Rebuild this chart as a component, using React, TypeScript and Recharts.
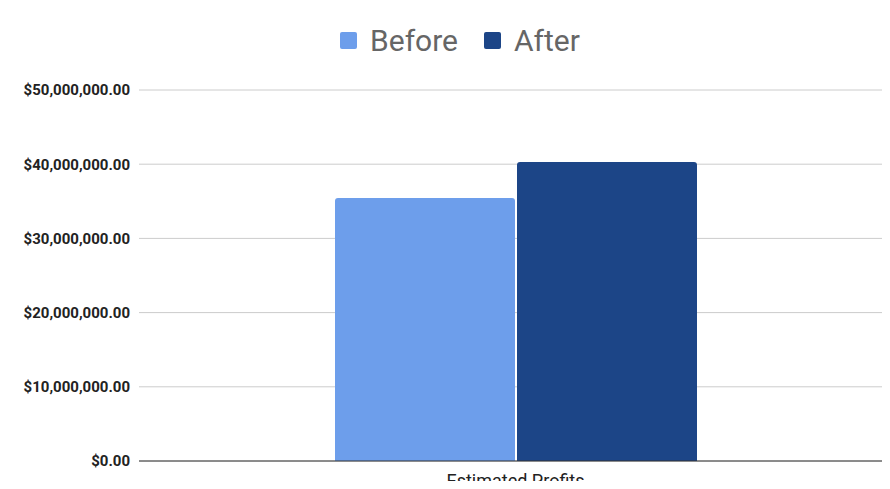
import { BarChart, Bar, XAxis, YAxis, CartesianGrid } from "recharts";

const categories = ["Estimated Profits"];
const beforeValues = [35450000];
const afterValues = [40300000];
const yTicks = [0, 10000000, 20000000, 30000000, 40000000, 50000000];

const BEFORE_COLOR = "#6d9eeb";
const AFTER_COLOR = "#1c4587";

const data = categories.map((name, i) => ({
  name,
  Before: beforeValues[i],
  After: afterValues[i],
}));

const money = (v: number) =>
  "$" +
  v.toLocaleString("en-US", { minimumFractionDigits: 2, maximumFractionDigits: 2 });

function TopLegend() {
  const items = [
    { label: "Before", color: BEFORE_COLOR },
    { label: "After", color: AFTER_COLOR },
  ];
  return (
    <div
      style={{
        position: "absolute",
        top: 20,
        left: 0,
        width: 920,
        display: "flex",
        justifyContent: "center",
        alignItems: "center",
        gap: 26,
        fontFamily: "Roboto",
        fontSize: 30,
        color: "#666",
        height: 40,
      }}
    >
      {items.map((it) => (
        <div key={it.label} style={{ display: "flex", alignItems: "center" }}>
          <span
            style={{
              display: "inline-block",
              width: 17,
              height: 17,
              borderRadius: 2,
              background: it.color,
              marginRight: 13,
            }}
          />
          <span>{it.label}</span>
        </div>
      ))}
    </div>
  );
}

export default function App() {
  return (
    <div
      style={{
        position: "relative",
        margin: -8,
        width: 890,
        height: 489,
        overflow: "hidden",
        background: "#fff",
      }}
    >
      <BarChart
        width={920}
        height={500}
        data={data}
        margin={{ top: 90, right: 28, bottom: 0, left: 0 }}
        barGap={2}
        barSize={180}
      >
        <CartesianGrid vertical={false} stroke="#ccc" />
        <XAxis
          dataKey="name"
          axisLine={{ stroke: "#333" }}
          tickLine={false}
          tickSize={0}
          tickMargin={13}
          height={39}
          tick={{ fill: "#222", fontSize: 18, fontFamily: "Roboto" }}
        />
        <YAxis
          width={139}
          domain={[0, 50000000]}
          ticks={yTicks}
          tickFormatter={money}
          axisLine={false}
          tickLine={false}
          tickSize={0}
          tickMargin={9}
          tick={{ fill: "#222", fontSize: 15, fontWeight: 700, fontFamily: "Roboto" }}
        />
        <Bar dataKey="Before" fill={BEFORE_COLOR} radius={[3, 3, 0, 0]} isAnimationActive={false} />
        <Bar dataKey="After" fill={AFTER_COLOR} radius={[3, 3, 0, 0]} isAnimationActive={false} />
      </BarChart>
      <TopLegend />
    </div>
  );
}
